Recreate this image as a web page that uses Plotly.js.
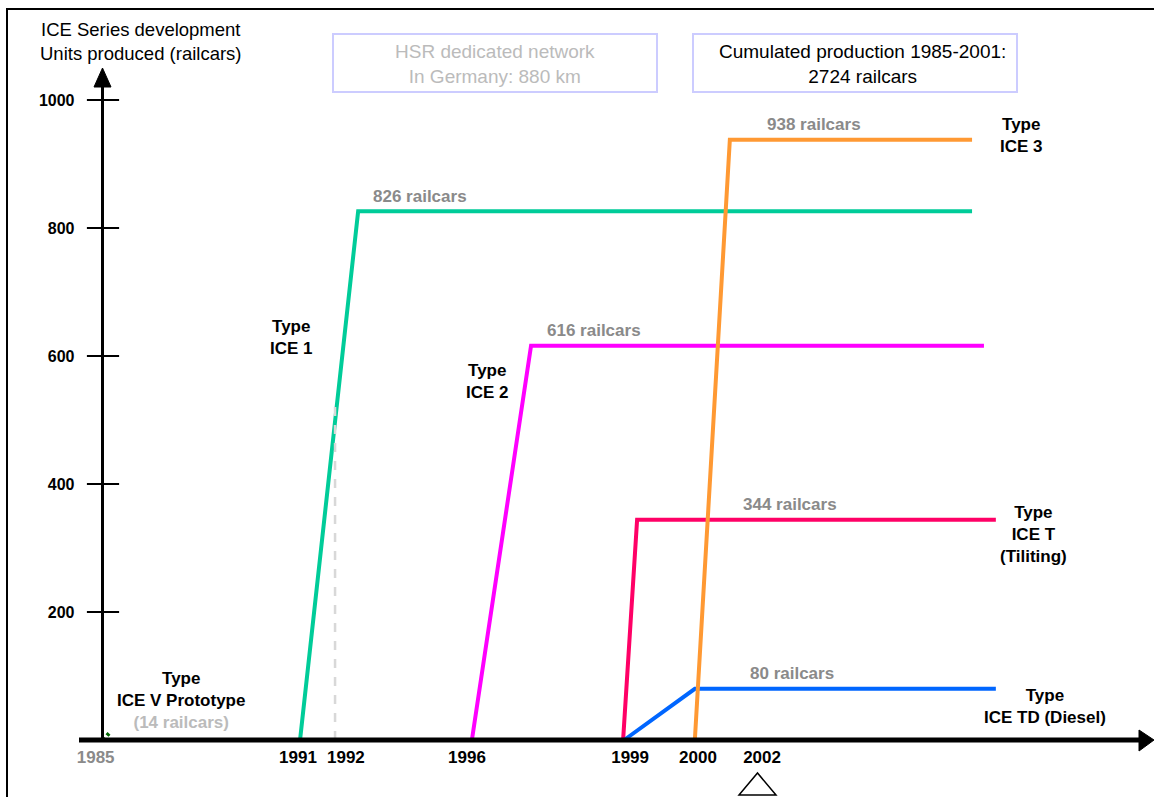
<!DOCTYPE html>
<html>
<head>
<meta charset="utf-8">
<script src="https://cdn.plot.ly/plotly-3.0.1.min.js"></script>
<style>html,body{margin:0;padding:0;background:#fff;}#chart{width:1154px;height:797px;}</style>
</head>
<body>
<div id="chart"></div>
<script>
// ---------- DATA ----------
// Schematic timeline: x values are positions along the (non-linear) time axis
const yearLabels = ['1985', '1991', '1992', '1996', '1999', '2000', '2002'];
const yearPos    = [-0.21, 5.57, 6.94, 10.4, 15.06, 17.0, 18.83];
const yTickVals  = [200, 400, 600, 800, 1000];

const iceV_x  = [0, 0.23];               const iceV_y  = [0, 14];
const ice1_x  = [5.63, 7.29, 24.83];     const ice1_y  = [0, 826, 826];
const ice2_x  = [10.54, 12.23, 25.17];   const ice2_y  = [0, 616, 616];
const iceT_x  = [14.86, 15.26, 25.51];   const iceT_y  = [0, 344, 344];
const iceTD_x = [14.89, 16.91, 25.51];   const iceTD_y = [0, 80, 80];
const ice3_x  = [16.91, 17.91, 24.83];   const ice3_y  = [0, 938, 938];
const mark1992_x = [6.63, 6.63];         const mark1992_y = [0, 534];

const countLabels = ['826 railcars', '616 railcars', '344 railcars', '80 railcars', '938 railcars'];
const countValues = [826, 616, 344, 80, 938];
const countLabelX = [7.66, 12.63, 18.23, 18.43, 18.91];

// ---------- LAYOUT HELPERS ----------
const W = 1154, H = 797;
const px = x => x / W;
const py = y => 1 - y / H;
const FONT = 'Arial, "Liberation Sans", sans-serif';
const GRAY = '#8a8a8a';

function line(x, y, color, width, dash) {
  return {x: x, y: y, type: 'scatter', mode: 'lines', hoverinfo: 'skip',
          line: {color: color, width: width, dash: dash || 'solid'}, showlegend: false};
}

const traces = [
  line(ice1_x, ice1_y, '#00cc99', 4),
  line(mark1992_x, mark1992_y, '#d8d8d8', 2.5, 'dash'),
  line(ice2_x, ice2_y, '#ff00ff', 4),
  line(iceT_x, iceT_y, '#ff0066', 4),
  line(iceTD_x, iceTD_y, '#0066ff', 4),
  line(ice3_x, ice3_y, '#ff9933', 4),
  line(iceV_x, iceV_y, '#006600', 4, '3px,3px'),
  {x: yTickVals.map(() => 0), y: yTickVals, type: 'scatter', mode: 'markers', hoverinfo: 'skip',
   showlegend: false, marker: {symbol: 'line-ew', size: 23, line: {color: '#000', width: 2}}}
];

const annotations = [];
countLabels.forEach((t, i) => {
  annotations.push({x: countLabelX[i], y: countValues[i], xref: 'x', yref: 'y', text: t,
    showarrow: false, xanchor: 'left', yanchor: 'middle', yshift: 15,
    font: {family: FONT, size: 17, color: GRAY, weight: 'bold'}});
});
const boldFont = {family: FONT, size: 17, color: '#000', weight: 'bold'};
function typeLabelPaper(text, cx, cy) {
  annotations.push({x: px(cx), y: py(cy), xref: 'paper', yref: 'paper', text: text,
    showarrow: false, xanchor: 'center', yanchor: 'middle', align: 'center', font: boldFont});
}
function typeLabelAt(text, cx, val, shift) {
  annotations.push({x: px(cx), y: val, xref: 'paper', yref: 'y', text: text, yshift: shift,
    showarrow: false, xanchor: 'center', yanchor: 'middle', align: 'center', font: boldFont});
}
typeLabelPaper('Type<br>ICE 1', 291, 337);
typeLabelPaper('Type<br>ICE 2', 487, 381);
typeLabelAt('Type<br>ICE 3', 1021, 938, 4);
typeLabelAt('Type<br>ICE T<br>(Tiliting)', 1033, 344, -15);
typeLabelAt('Type<br>ICE TD (Diesel)', 1045, 80, -18);
typeLabelPaper('Type<br>ICE V Prototype<br><span style="color:#bbbbbb">(14 railcars)</span>', 181, 700);

annotations.push({x: px(141), y: py(42), xref: 'paper', yref: 'paper',
  text: 'ICE Series development<br>Units produced (railcars)', showarrow: false,
  xanchor: 'center', yanchor: 'middle', align: 'center',
  font: {family: FONT, size: 18.5, color: '#000'}});
annotations.push({x: px(495), y: py(64), xref: 'paper', yref: 'paper',
  text: 'HSR dedicated network<br>In Germany: 880 km', showarrow: false,
  xanchor: 'center', yanchor: 'middle', align: 'center',
  font: {family: FONT, size: 19, color: '#bbbbbb'}});
annotations.push({x: px(862), y: py(64), xref: 'paper', yref: 'paper',
  text: 'Cumulated production 1985-2001:<br>2724 railcars', showarrow: false,
  xanchor: 'center', yanchor: 'middle', align: 'center',
  font: {family: FONT, size: 19, color: '#000'}});

const shapes = [
  // frame
  {type: 'rect', xref: 'paper', yref: 'paper', x0: px(7), y0: py(805), x1: px(1162), y1: py(9),
   line: {color: '#000', width: 2}},
  // boxes
  {type: 'rect', xref: 'paper', yref: 'paper', x0: px(333), y0: py(92), x1: px(657), y1: py(34),
   line: {color: '#ccccff', width: 2}},
  {type: 'rect', xref: 'paper', yref: 'paper', x0: px(693), y0: py(92), x1: px(1017), y1: py(34),
   line: {color: '#ccccff', width: 2}},
  // y axis
  {type: 'line', xref: 'paper', yref: 'paper', x0: px(102.5), x1: px(102.5), y0: py(740), y1: py(84),
   line: {color: '#000', width: 3}},
  {type: 'path', xref: 'paper', yref: 'paper',
   path: `M ${px(102.5)} ${py(68)} L ${px(111)} ${py(87)} L ${px(94)} ${py(87)} Z`,
   fillcolor: '#000', line: {color: '#000', width: 1}},
  // x axis
  {type: 'line', xref: 'paper', yref: 'paper', x0: px(79), x1: px(1142), y0: py(740), y1: py(740),
   line: {color: '#000', width: 5}},
  {type: 'path', xref: 'paper', yref: 'paper',
   path: `M ${px(1154)} ${py(740)} L ${px(1139)} ${py(730)} L ${px(1139)} ${py(751)} Z`,
   fillcolor: '#000', line: {color: '#000', width: 1}},
  // bottom triangle marker
  {type: 'path', xref: 'paper', yref: 'paper',
   path: `M ${px(739)} ${py(795)} L ${px(757.5)} ${py(773)} L ${px(776)} ${py(795)} Z`,
   fillcolor: 'rgba(0,0,0,0)', line: {color: '#000', width: 1.5}}
];

// axes scale: ~35 px per timeline unit, 0.64 px per railcar
const xmin = -103 / 35, xmax = xmin + W / 35;
const ymin = -57 / 0.64, ymax = ymin + H / 0.64;

const layout = {
  width: W, height: H,
  margin: {l: 0, r: 0, t: 0, b: 0},
  paper_bgcolor: '#fff', plot_bgcolor: 'rgba(0,0,0,0)',
  showlegend: false, hovermode: false,
  xaxis: {range: [xmin, xmax], domain: [0, 1], anchor: 'free', position: py(740),
    showgrid: false, zeroline: false, showline: false, ticks: '',
    tickmode: 'array', tickvals: yearPos,
    ticktext: yearLabels.map((t, i) => i === 0 ? '<span style="color:#8a8a8a">' + t + '</span>' : t),
    ticklabelstandoff: 5,
    tickfont: {family: FONT, size: 17, color: '#000', weight: 'bold'}},
  yaxis: {range: [ymin, ymax], domain: [0, 1], anchor: 'free', position: px(102.5),
    showgrid: false, zeroline: false, showline: false, ticks: '',
    tickmode: 'array', tickvals: yTickVals, ticklabelstandoff: 28,
    tickfont: {family: FONT, size: 16, color: '#000', weight: 'bold'}},
  annotations: annotations,
  shapes: shapes
};

Plotly.newPlot('chart', traces, layout, {displayModeBar: false, staticPlot: true});
</script>
</body>
</html>
